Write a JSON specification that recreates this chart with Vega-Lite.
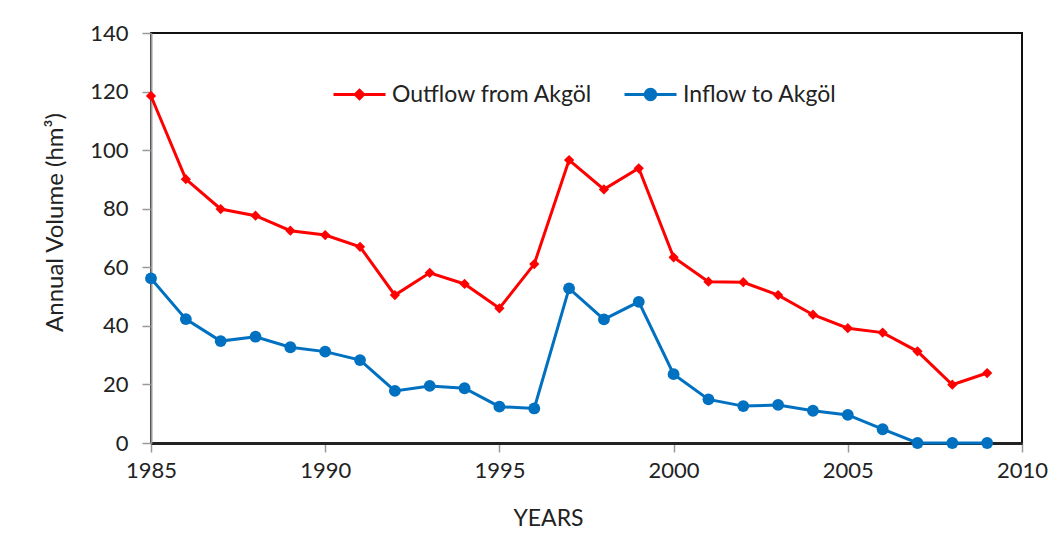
{
  "$schema": "https://vega.github.io/schema/vega-lite/v6.json",
  "width": 871,
  "height": 410,
  "autosize": {"type": "none"},
  "padding": {"left": 151, "top": 33, "right": 35, "bottom": 107},
  "background": "white",
  "config": {
    "font": "Lato",
    "view": {"stroke": "#111", "strokeWidth": 2},
    "axis": {"labelFont": "Lato", "titleFont": "Lato", "labelFontSize": 22, "titleFontSize": 23, "titleFontWeight": "normal", "labelColor": "#222", "titleColor": "#222", "grid": false, "tickColor": "#999", "tickWidth": 1.5, "tickSize": 9, "labelFlush": false},
    "legend": {"title": null, "orient": "none", "padding": 0, "symbolSize": 2704, "symbolStrokeWidth": 3, "labelFont": "Lato", "labelFontSize": 23, "labelColor": "#222", "labelOffset": 5, "labelLimit": 0, "symbolOpacity": 1}
  },
  "data": {
    "values": [
      {"year": 1985, "series": "Outflow from Akgöl", "value": 118.5},
      {"year": 1986, "series": "Outflow from Akgöl", "value": 90.1},
      {"year": 1987, "series": "Outflow from Akgöl", "value": 79.9},
      {"year": 1988, "series": "Outflow from Akgöl", "value": 77.6},
      {"year": 1989, "series": "Outflow from Akgöl", "value": 72.5},
      {"year": 1990, "series": "Outflow from Akgöl", "value": 71.0},
      {"year": 1991, "series": "Outflow from Akgöl", "value": 67.0},
      {"year": 1992, "series": "Outflow from Akgöl", "value": 50.5},
      {"year": 1993, "series": "Outflow from Akgöl", "value": 58.1},
      {"year": 1994, "series": "Outflow from Akgöl", "value": 54.3},
      {"year": 1995, "series": "Outflow from Akgöl", "value": 46.0},
      {"year": 1996, "series": "Outflow from Akgöl", "value": 61.1},
      {"year": 1997, "series": "Outflow from Akgöl", "value": 96.6},
      {"year": 1998, "series": "Outflow from Akgöl", "value": 86.6},
      {"year": 1999, "series": "Outflow from Akgöl", "value": 93.8},
      {"year": 2000, "series": "Outflow from Akgöl", "value": 63.4},
      {"year": 2001, "series": "Outflow from Akgöl", "value": 55.1},
      {"year": 2002, "series": "Outflow from Akgöl", "value": 54.9},
      {"year": 2003, "series": "Outflow from Akgöl", "value": 50.5},
      {"year": 2004, "series": "Outflow from Akgöl", "value": 43.8},
      {"year": 2005, "series": "Outflow from Akgöl", "value": 39.2},
      {"year": 2006, "series": "Outflow from Akgöl", "value": 37.7},
      {"year": 2007, "series": "Outflow from Akgöl", "value": 31.3},
      {"year": 2008, "series": "Outflow from Akgöl", "value": 19.9},
      {"year": 2009, "series": "Outflow from Akgöl", "value": 23.9},
      {"year": 1985, "series": "Inflow to Akgöl", "value": 56.2},
      {"year": 1986, "series": "Inflow to Akgöl", "value": 42.3},
      {"year": 1987, "series": "Inflow to Akgöl", "value": 34.8},
      {"year": 1988, "series": "Inflow to Akgöl", "value": 36.3},
      {"year": 1989, "series": "Inflow to Akgöl", "value": 32.7},
      {"year": 1990, "series": "Inflow to Akgöl", "value": 31.2},
      {"year": 1991, "series": "Inflow to Akgöl", "value": 28.3},
      {"year": 1992, "series": "Inflow to Akgöl", "value": 17.8},
      {"year": 1993, "series": "Inflow to Akgöl", "value": 19.5},
      {"year": 1994, "series": "Inflow to Akgöl", "value": 18.7},
      {"year": 1995, "series": "Inflow to Akgöl", "value": 12.4},
      {"year": 1996, "series": "Inflow to Akgöl", "value": 11.8},
      {"year": 1997, "series": "Inflow to Akgöl", "value": 52.8},
      {"year": 1998, "series": "Inflow to Akgöl", "value": 42.2},
      {"year": 1999, "series": "Inflow to Akgöl", "value": 48.2},
      {"year": 2000, "series": "Inflow to Akgöl", "value": 23.5},
      {"year": 2001, "series": "Inflow to Akgöl", "value": 14.9},
      {"year": 2002, "series": "Inflow to Akgöl", "value": 12.6},
      {"year": 2003, "series": "Inflow to Akgöl", "value": 13.0},
      {"year": 2004, "series": "Inflow to Akgöl", "value": 11.0},
      {"year": 2005, "series": "Inflow to Akgöl", "value": 9.6},
      {"year": 2006, "series": "Inflow to Akgöl", "value": 4.7},
      {"year": 2007, "series": "Inflow to Akgöl", "value": 0},
      {"year": 2008, "series": "Inflow to Akgöl", "value": 0},
      {"year": 2009, "series": "Inflow to Akgöl", "value": 0}
    ]
  },
  "encoding": {
    "x": {"field": "year", "type": "quantitative", "scale": {"domain": [1985, 2010], "nice": false, "zero": false},
      "axis": {"values": [1985, 1990, 1995, 2000, 2005, 2010], "format": "d", "title": "YEARS", "labelPadding": 8, "titlePadding": 26, "titleX": 397, "domainColor": "#222", "domainWidth": 3}},
    "y": {"field": "value", "type": "quantitative", "scale": {"domain": [0, 140], "nice": false},
      "axis": {"values": [0, 20, 40, 60, 80, 100, 120, 140], "title": "Annual Volume (hm³)", "titleFontSize": 24, "titleY": 189, "labelPadding": 14, "titlePadding": 22, "domainColor": "#999", "domainWidth": 2}}
  },
  "layer": [
    {
      "transform": [{"filter": "datum.series === 'Outflow from Akgöl'"}],
      "encoding": {
        "color": {"field": "series", "type": "nominal",
          "scale": {"domain": ["Outflow from Akgöl"], "range": ["#FF0000"]},
          "legend": {"legendX": 181, "legendY": 34, "symbolType": "M-1,0L1,0M0,-0.16L0.16,0L0,0.16L-0.16,0Z", "symbolFillColor": "#FF0000", "symbolStrokeColor": "#FF0000"}}
      },
      "layer": [
        {"mark": {"type": "line", "strokeWidth": 3}},
        {"mark": {"type": "point", "filled": true, "opacity": 1, "shape": "diamond", "size": 105}}
      ]
    },
    {
      "transform": [{"filter": "datum.series === 'Inflow to Akgöl'"}],
      "encoding": {
        "color": {"field": "series", "type": "nominal",
          "scale": {"domain": ["Inflow to Akgöl"], "range": ["#0070C0"]},
          "legend": {"legendX": 472, "legendY": 34, "symbolType": "M-1,0L1,0M0.2,0A0.2,0.2,0,1,1,-0.2,0A0.2,0.2,0,1,1,0.2,0Z", "symbolFillColor": "#0070C0", "symbolStrokeColor": "#0070C0"}}
      },
      "layer": [
        {"mark": {"type": "line", "strokeWidth": 3}},
        {"mark": {"type": "point", "filled": true, "opacity": 1, "shape": "circle", "size": 140}}
      ]
    }
  ],
  "resolve": {"scale": {"color": "independent"}, "legend": {"color": "independent"}}
}
